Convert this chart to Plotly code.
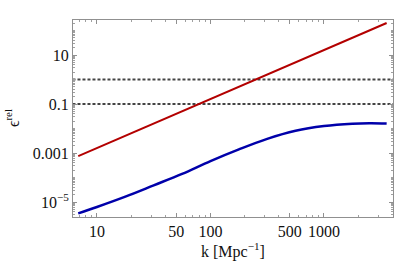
import plotly.graph_objects as go

# Red curve
k_red = [6.84, 20, 50, 100, 300, 1000, 3565]
eps_red = [7.5e-4, 6.4e-3, 0.04, 0.16, 1.44, 16, 203]

# Blue curve
k_blue = [6.84, 10, 17.8, 31.6, 56.2, 100, 178, 316, 562, 1000, 1778, 2512, 3565]
eps_blue = [3.47e-6, 6.3e-6, 1.66e-5, 4.8e-5, 1.41e-4, 4.7e-4, 1.41e-3, 3.8e-3,
            8.1e-3, 1.26e-2, 1.58e-2, 1.66e-2, 1.62e-2]

# Horizontal reference levels
levels = [1.0, 0.1]
k_span = [5.5, 4500]

x_ticks = [10, 50, 100, 500, 1000]
x_ticklabels = ["10", "50", "100", "500", "1000"]
y_ticks = [1e-5, 1e-3, 0.1, 10]
y_ticklabels = ["10<sup>\u22125</sup>", "0.001", "0.1", "10"]

x_minor = [m * 10**e for e in range(0, 4) for m in range(2, 10)]
y_minor = [m * 10.0**e for e in range(-6, 3) for m in range(1, 10)]

fig = go.Figure()
for lv in levels:
    fig.add_trace(go.Scatter(x=k_span, y=[lv, lv], mode="lines",
                             line=dict(color="#444444", width=2, dash="3px,2px"),
                             showlegend=False, hoverinfo="skip"))
fig.add_trace(go.Scatter(x=k_red, y=eps_red, mode="lines",
                         line=dict(color="#B30000", width=2), showlegend=False))
fig.add_trace(go.Scatter(x=k_blue, y=eps_blue, mode="lines", line_shape="spline",
                         line=dict(color="#0000AA", width=2.5), showlegend=False))

font = dict(family="Liberation Serif", size=16, color="#111111")
axis_common = dict(showgrid=False, zeroline=False, showline=True, mirror="ticks",
                   linecolor="#909090", linewidth=1, ticks="inside", ticklen=4,
                   tickcolor="#909090", tickfont=font, automargin=False)

fig.update_layout(
    width=396, height=268,
    margin=dict(l=73, r=3, t=20, b=51),
    paper_bgcolor="white", plot_bgcolor="white",
    xaxis=dict(type="log", range=[0.789, 3.608], tickmode="array",
               tickvals=x_ticks, ticktext=x_ticklabels,
               minor=dict(tickmode="array", tickvals=x_minor, ticks="inside",
                          ticklen=2, tickcolor="#a0a0a0"),
               **axis_common),
    yaxis=dict(type="log", range=[-5.61, 2.43], tickmode="array",
               tickvals=y_ticks, ticktext=y_ticklabels,
               minor=dict(tickmode="array", tickvals=y_minor, ticks="inside",
                          ticklen=2, tickcolor="#a0a0a0"),
               **axis_common),
    annotations=[
        dict(text="k [Mpc<sup>\u22121</sup>]", xref="paper", yref="paper",
             x=0.5, y=-0.17, showarrow=False, font=font,
             xanchor="center", yanchor="middle"),
        dict(text="\u03f5<sup>rel</sup>", xref="paper", yref="paper",
             x=-0.19, y=0.503, showarrow=False, font=font, textangle=-90,
             xanchor="center", yanchor="middle"),
    ],
)

fig.write_html("out.html", config={"displayModeBar": False},
               post_script="document.body.style.margin='0';document.body.style.overflow='hidden';")
